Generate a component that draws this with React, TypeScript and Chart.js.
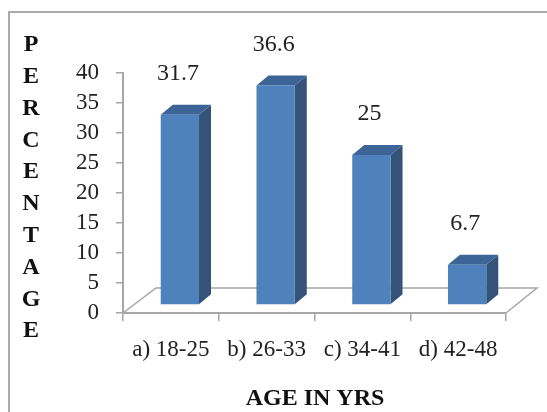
import React, { useEffect, useRef } from "react";
import { Chart, registerables } from "chart.js";

Chart.register(...registerables);

const ageGroups = ["a) 18-25", "b) 26-33", "c) 34-41", "d) 42-48"];
const percentages = [31.7, 36.6, 25, 6.7];
const valueLabels = ["31.7", "36.6", "25", "6.7"];
const yTitleLetters = ["P", "E", "R", "C", "E", "N", "T", "A", "G", "E"];
const xTitle = "AGE IN YRS";

const FRONT = "#4f81bd";
const SIDE = "#335378";
const TOP = "#3d6497";
const AXIS = "#a6a6a6";
const SERIF = "'Liberation Serif', serif";

// Depth of the extruded columns and of the floor, in pixels.
const DX = 12;
const DY = 10;
const SHIFT_X = 9;
const SHIFT_Y = -8;

const pseudo3d = {
  id: "pseudo3d",
  beforeDraw(chart: any) {
    const { ctx, width, height, chartArea: a } = chart;
    ctx.save();
    ctx.fillStyle = "#fff";
    ctx.fillRect(0, 0, width, height);
    // Frame runs off the canvas on the right and at the bottom.
    ctx.strokeStyle = "#aaaaaa";
    ctx.lineWidth = 2;
    ctx.strokeRect(9, 12, 560, 420);
    ctx.restore();
    // Floor of the plot, seen in perspective.
    ctx.save();
    ctx.strokeStyle = AXIS;
    ctx.lineWidth = 1.5;
    ctx.beginPath();
    ctx.moveTo(a.left, a.bottom);
    ctx.lineTo(a.left + 33, a.bottom - 25);
    ctx.lineTo(a.right + 31, a.bottom - 25);
    ctx.lineTo(a.right, a.bottom);
    ctx.stroke();
    ctx.restore();
  },
  beforeDatasetsDraw(chart: any) {
    const { ctx } = chart;
    const bars = chart.getDatasetMeta(0).data;
    ctx.save();
    ctx.translate(SHIFT_X, SHIFT_Y);
    bars.forEach((bar: any) => {
      const p = bar.getProps(["x", "y", "base", "width"], true);
      const l = p.x - p.width / 2;
      const r = p.x + p.width / 2;
      ctx.fillStyle = SIDE;
      ctx.beginPath();
      ctx.moveTo(r, p.y);
      ctx.lineTo(r + DX, p.y - DY);
      ctx.lineTo(r + DX, p.base - DY);
      ctx.lineTo(r, p.base);
      ctx.closePath();
      ctx.fill();
      ctx.fillStyle = TOP;
      ctx.beginPath();
      ctx.moveTo(l, p.y);
      ctx.lineTo(l + DX, p.y - DY);
      ctx.lineTo(r + DX, p.y - DY);
      ctx.lineTo(r, p.y);
      ctx.closePath();
      ctx.fill();
    });
  },
  afterDatasetsDraw(chart: any) {
    const { ctx } = chart;
    ctx.restore();
    const bars = chart.getDatasetMeta(0).data;
    ctx.save();
    ctx.fillStyle = "#222";
    ctx.font = `24px ${SERIF}`;
    ctx.textAlign = "center";
    ctx.textBaseline = "middle";
    bars.forEach((bar: any, i: number) => {
      const p = bar.getProps(["x", "y"], true);
      ctx.fillText(valueLabels[i], p.x + 7, p.y + SHIFT_Y - 41);
    });
    ctx.fillStyle = "#111";
    ctx.font = `bold 24px ${SERIF}`;
    yTitleLetters.forEach((c, i) => {
      ctx.fillText(c, 31, 45 + i * 31.8);
    });
    ctx.fillText(xTitle, 315, 399);
    ctx.restore();
  },
};

export default function App() {
  const ref = useRef<HTMLCanvasElement>(null);
  useEffect(() => {
    const chart = new Chart(ref.current!, {
      type: "bar",
      data: {
        labels: ageGroups,
        datasets: [
          { data: percentages, backgroundColor: FRONT, barPercentage: 0.8, categoryPercentage: 0.5 },
        ],
      },
      plugins: [pseudo3d],
      options: {
        animation: false,
        responsive: false,
        layout: { padding: { top: 73, right: 41, left: 0, bottom: 0 } },
        plugins: { legend: { display: false }, tooltip: { enabled: false } },
        scales: {
          x: {
            afterFit: (s: any) => { s.height = 99; },
            grid: { drawOnChartArea: false, color: AXIS, tickLength: 8, lineWidth: 1.5 },
            border: { color: AXIS, width: 2 },
            ticks: { color: "#222", font: { family: SERIF, size: 23 }, padding: 15, maxRotation: 0, autoSkip: false },
          },
          y: {
            min: 0,
            max: 40,
            afterFit: (s: any) => { s.width = 123; },
            grid: { drawOnChartArea: false, color: AXIS, tickLength: 7, lineWidth: 1.5 },
            border: { color: AXIS, width: 2 },
            ticks: { stepSize: 5, autoSkip: false, color: "#222", font: { family: SERIF, size: 23 }, padding: 17 },
          },
        },
      },
    });
    return () => chart.destroy();
  }, []);
  return (
    <div style={{ position: "absolute", left: 0, top: 0, width: 547, height: 412, overflow: "hidden" }}>
      <canvas ref={ref} width={547} height={412} style={{ display: "block" }} />
    </div>
  );
}
